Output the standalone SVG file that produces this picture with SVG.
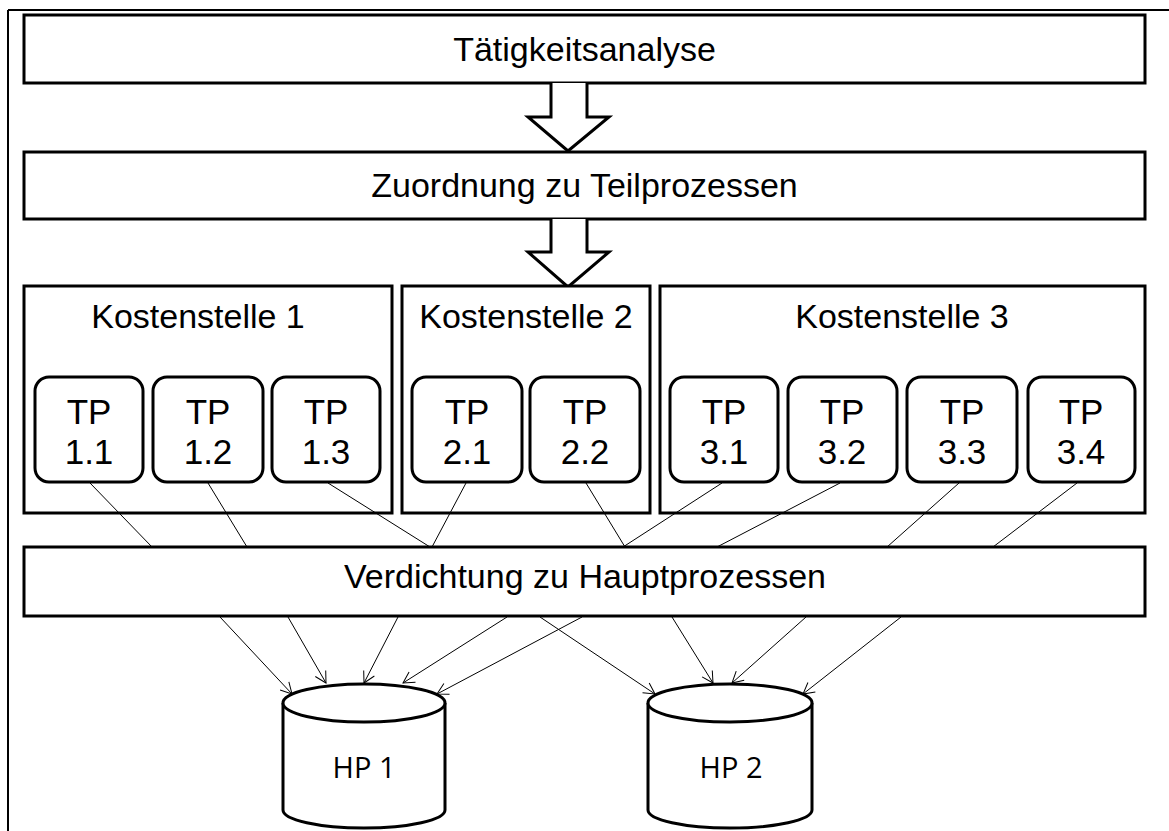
<svg xmlns="http://www.w3.org/2000/svg" width="1169" height="831" viewBox="0 0 1169 831">
<defs>
<style>
.box{fill:#fff;stroke:#000;stroke-width:3}
.tp{fill:#fff;stroke:#000;stroke-width:3}
.t{font-family:"Liberation Sans",Arial,sans-serif;fill:#000;text-anchor:middle}
.big{font-size:34px}
.tpt{font-size:35px}
.hp{font-family:"Open Sans","Liberation Sans",sans-serif;font-size:29px;fill:#000;text-anchor:middle}
.c{stroke:#000;stroke-width:1;fill:none}
.blk{fill:#fff;stroke:#000;stroke-width:3;stroke-linejoin:miter}
</style>
<marker id="ah" markerWidth="14" markerHeight="14" refX="12" refY="7" orient="auto" markerUnits="userSpaceOnUse">
<path d="M1,1 L12,7 L1,13" fill="none" stroke="#000" stroke-width="1"/>
</marker>
</defs>
<rect width="1169" height="831" fill="#fff"/>
<g id="frame">
<line x1="8" y1="10" x2="1169" y2="10" stroke="#000" stroke-width="2"/>
<line x1="8" y1="10" x2="8" y2="831" stroke="#000" stroke-width="2"/>
</g>
<g id="taetigkeitsanalyse">
<rect class="box" x="24" y="15" width="1121" height="68"/>
<text class="t big" x="584.5" y="61">Tätigkeitsanalyse</text>
</g>
<g id="zuordnung">
<rect class="box" x="24" y="152" width="1121" height="67"/>
<text class="t big" x="584.5" y="197">Zuordnung zu Teilprozessen</text>
</g>
<g id="arrows-block">
<path class="blk" d="M551,83 L551,117 L528,117 L568,151 L609,117 L587,117 L587,83"/>
<path class="blk" d="M551,219 L551,252 L528,252 L568,287 L609,252 L587,252 L587,219"/>
</g>
<g id="kostenstelle1">
<rect class="box" x="24" y="286" width="368" height="227"/>
<text class="t big" x="198" y="328">Kostenstelle 1</text>
</g>
<g id="kostenstelle2">
<rect class="box" x="402" y="286" width="248" height="227"/>
<text class="t big" x="526" y="328">Kostenstelle 2</text>
</g>
<g id="kostenstelle3">
<rect class="box" x="660" y="286" width="485" height="227"/>
<text class="t big" x="902" y="328">Kostenstelle 3</text>
</g>
<g id="tp11"><rect class="tp" x="35" y="377" width="108" height="105" rx="14"/><text class="t tpt" x="89" y="424">TP</text><text class="t tpt" x="89" y="464">1.1</text></g>
<g id="tp12"><rect class="tp" x="153" y="377" width="110" height="105" rx="14"/><text class="t tpt" x="208" y="424">TP</text><text class="t tpt" x="208" y="464">1.2</text></g>
<g id="tp13"><rect class="tp" x="272" y="377" width="108" height="105" rx="14"/><text class="t tpt" x="326" y="424">TP</text><text class="t tpt" x="326" y="464">1.3</text></g>
<g id="tp21"><rect class="tp" x="412" y="377" width="110" height="105" rx="14"/><text class="t tpt" x="467" y="424">TP</text><text class="t tpt" x="467" y="464">2.1</text></g>
<g id="tp22"><rect class="tp" x="530" y="377" width="110" height="105" rx="14"/><text class="t tpt" x="585" y="424">TP</text><text class="t tpt" x="585" y="464">2.2</text></g>
<g id="tp31"><rect class="tp" x="670" y="377" width="108" height="105" rx="14"/><text class="t tpt" x="724" y="424">TP</text><text class="t tpt" x="724" y="464">3.1</text></g>
<g id="tp32"><rect class="tp" x="788" y="377" width="109" height="105" rx="14"/><text class="t tpt" x="842" y="424">TP</text><text class="t tpt" x="842" y="464">3.2</text></g>
<g id="tp33"><rect class="tp" x="907" y="377" width="110" height="105" rx="14"/><text class="t tpt" x="962" y="424">TP</text><text class="t tpt" x="962" y="464">3.3</text></g>
<g id="tp34"><rect class="tp" x="1028" y="377" width="107" height="105" rx="14"/><text class="t tpt" x="1081" y="424">TP</text><text class="t tpt" x="1081" y="464">3.4</text></g>
<g id="verdichtung">
<rect class="box" x="24" y="547" width="1121" height="69"/>
<text class="t big" x="585" y="588">Verdichtung zu Hauptprozessen</text>
</g>
<g id="hp1">
<path d="M283,703 L283,810 A81,18 0 0 0 445,810 L445,703" fill="#fff" stroke="#000" stroke-width="3"/>
<ellipse cx="364" cy="703" rx="81" ry="19" fill="#fff" stroke="#000" stroke-width="3"/>
<text class="hp" x="364" y="778">HP 1</text>
</g>
<g id="hp2">
<path d="M648,703 L648,810 A82,18 0 0 0 812,810 L812,703" fill="#fff" stroke="#000" stroke-width="3"/>
<ellipse cx="730" cy="703" rx="82" ry="19" fill="#fff" stroke="#000" stroke-width="3"/>
<text class="hp" x="731" y="778">HP 2</text>
</g>
<g id="connectors">
<line class="c" x1="90" y1="483" x2="152" y2="547"/>
<line class="c" x1="208" y1="483" x2="247" y2="547"/>
<line class="c" x1="328" y1="483" x2="430" y2="547"/>
<line class="c" x1="466" y1="483" x2="432" y2="547"/>
<line class="c" x1="586" y1="483" x2="625" y2="547"/>
<line class="c" x1="722" y1="483" x2="623" y2="547"/>
<line class="c" x1="840" y1="483" x2="717" y2="547"/>
<line class="c" x1="959" y1="483" x2="887" y2="547"/>
<line class="c" x1="1077" y1="483" x2="993" y2="547"/>
<line class="c" x1="220" y1="617" x2="292" y2="694" marker-end="url(#ah)"/>
<line class="c" x1="288" y1="617" x2="326" y2="683" marker-end="url(#ah)"/>
<line class="c" x1="398" y1="617" x2="364" y2="683" marker-end="url(#ah)"/>
<line class="c" x1="507" y1="617" x2="403" y2="683" marker-end="url(#ah)"/>
<line class="c" x1="582" y1="617" x2="437" y2="694" marker-end="url(#ah)"/>
<line class="c" x1="540" y1="617" x2="655" y2="694" marker-end="url(#ah)"/>
<line class="c" x1="672" y1="617" x2="713" y2="683" marker-end="url(#ah)"/>
<line class="c" x1="806" y1="617" x2="732" y2="683" marker-end="url(#ah)"/>
<line class="c" x1="901" y1="617" x2="803" y2="694" marker-end="url(#ah)"/>
</g>
</svg>
